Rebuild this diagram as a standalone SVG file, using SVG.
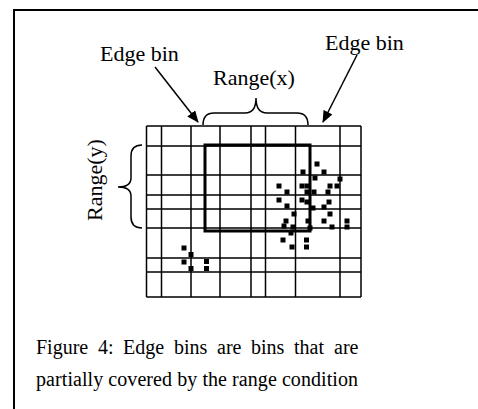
<svg xmlns="http://www.w3.org/2000/svg" width="478" height="409" viewBox="0 0 478 409">
<style>
.t{font-family:"Liberation Serif","Times New Roman",serif;fill:#000}
.lbl{font-size:22px}
.cap{font-size:20px}
.g{stroke:#000;stroke-width:1.5;fill:none}
.thick{stroke:#000;stroke-width:3;fill:none}
.br{stroke:#000;stroke-width:1.5;fill:none}
.ar{stroke:#000;stroke-width:1.5;fill:none}
.d rect{fill:#000;width:5px;height:5px}
</style>
<defs>
<marker id="ah" markerWidth="12" markerHeight="10" refX="11" refY="5" orient="auto" markerUnits="userSpaceOnUse">
<path d="M0,0 L12,5 L0,10 Z" fill="#000"/>
</marker>
</defs>
<rect width="478" height="409" fill="#fff"/>
<g id="frame">
<path d="M14,409 V10 H478" stroke="#000" stroke-width="2" fill="none"/>
</g>
<g id="grid" class="g">
<path d="M146.5,126V297M161.5,126V297M191,126V297M220,126V297M251,126V297M265.5,126V297M295.5,126V297M340,126V297M361,126V297"/>
<path d="M146.5,126H361M146.5,146H361M146.5,175H361M146.5,195H361M146.5,209H361M146.5,228H361M146.5,258H361M146.5,272H361M146.5,297H361"/>
</g>
<g id="range-rect">
<rect class="thick" x="205" y="145" width="105" height="86"/>
</g>
<g id="points" class="d">
<rect x="314.5" y="161.5"/><rect x="300.5" y="169.5"/><rect x="321.5" y="169.5"/><rect x="312.5" y="175.5"/><rect x="337.5" y="176.5"/>
<rect x="276.5" y="183.5"/><rect x="299.5" y="183.5"/><rect x="304.5" y="183.5"/><rect x="327.5" y="183.5"/><rect x="334.5" y="183.5"/>
<rect x="284.5" y="189.5"/><rect x="304.5" y="189.5"/><rect x="311.5" y="189.5"/><rect x="325.5" y="189.5"/>
<rect x="276.5" y="197.5"/><rect x="299.5" y="197.5"/><rect x="304.5" y="199.5"/><rect x="326.5" y="199.5"/>
<rect x="284.5" y="203.5"/><rect x="310.5" y="205.5"/><rect x="321.5" y="204.5"/>
<rect x="291.5" y="211.5"/><rect x="327.5" y="211.5"/>
<rect x="283.5" y="218.5"/><rect x="305.5" y="218.5"/><rect x="321.5" y="218.5"/><rect x="344.5" y="218.5"/>
<rect x="281.5" y="223.5"/><rect x="290.5" y="224.5"/><rect x="307.5" y="225.5"/><rect x="329.5" y="224.5"/><rect x="344.5" y="224.5"/>
<rect x="288.5" y="230.5"/>
<rect x="280.5" y="237.5"/><rect x="304" y="237.5"/>
<rect x="289.5" y="244.5"/><rect x="304" y="244.5"/>
<rect x="181.5" y="245.5"/><rect x="188.5" y="252"/><rect x="181.5" y="259.5"/><rect x="188.5" y="266"/><rect x="204" y="259"/><rect x="204" y="266"/>
</g>
<g id="range-x">
<path class="br" d="M203,125 Q203,113 214,113 L245,113 Q256,113 256,98 Q256,113 267,113 L297,113 Q308,113 308,125"/>
<text class="t lbl" x="213" y="85">Range(x)</text>
</g>
<g id="range-y">
<path class="br" d="M142,145 Q131,145 131,156 L131,178 Q131,187 118,187 Q131,187 131,196 L131,217 Q131,228 142,228"/>
<text class="t lbl" text-anchor="middle" transform="translate(102,180) rotate(-90)">Range(y)</text>
</g>
<g id="edge-bin-left">
<text class="t lbl" x="100" y="60.5">Edge bin</text>
</g>
<g id="edge-bin-right">
<text class="t lbl" x="325" y="50">Edge bin</text>
</g>
<g id="connectors">
<line class="ar" x1="155" y1="67" x2="198" y2="122" marker-end="url(#ah)"/>
<line class="ar" x1="357" y1="55" x2="323" y2="122" marker-end="url(#ah)"/>
</g>
<g id="caption">
<text class="t cap" y="354"><tspan x="36">Figure</tspan><tspan x="98">4:</tspan><tspan x="123">Edge</tspan><tspan x="174">bins</tspan><tspan x="217">are</tspan><tspan x="251">bins</tspan><tspan x="294">that</tspan><tspan x="334">are</tspan></text>
<text class="t cap" x="36" y="386" textLength="322" lengthAdjust="spacing">partially covered by the range condition</text>
</g>
</svg>
